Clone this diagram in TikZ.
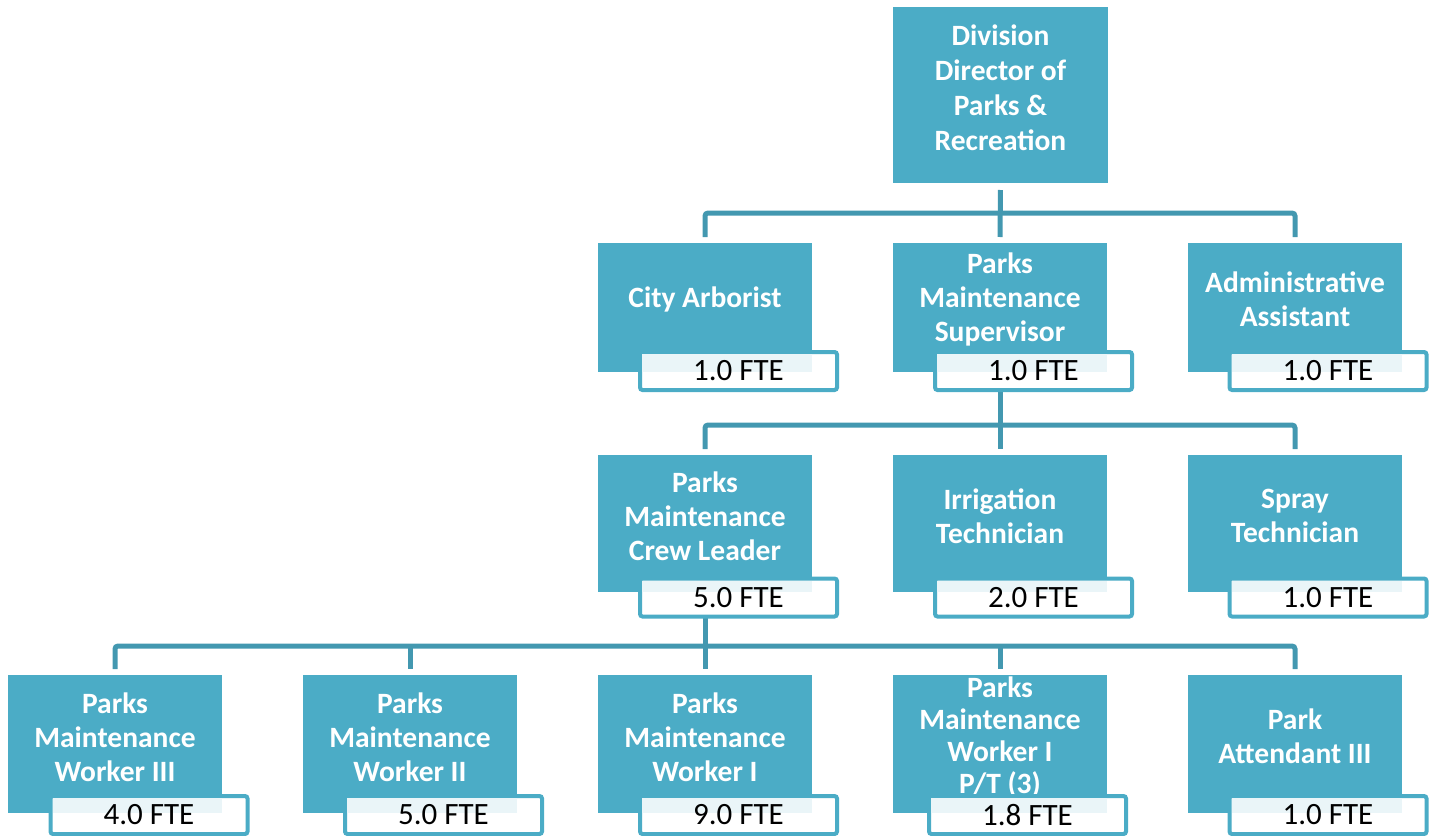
\documentclass[tikz,border=0pt]{standalone}
\usepackage{fontspec}
\setmainfont{Carlito}
\usetikzlibrary{backgrounds}

\definecolor{boxblue}{HTML}{4BACC6}
\definecolor{linkblue}{HTML}{4398B0}
\definecolor{tintblue}{HTML}{EAF5F8}

\tikzset{
  mainbox/.style={fill=boxblue, draw=none, minimum width=214pt, inner sep=0pt, outer sep=0pt},
  titletext/.style={text=white, font=\bfseries\fontsize{29.5}{34}\selectfont, align=center, inner sep=0pt},
  ftebox/.style={fill=white, draw=boxblue, line width=4pt, rounded corners=2.5pt,
    minimum width=197pt, minimum height=38pt, inner sep=0pt, outer sep=0pt},
  ftetext/.style={text=black, font=\fontsize{31}{34}\selectfont, inner sep=0pt},
  tint/.style={fill=tintblue},
  conn/.style={draw=linkblue, line width=5pt, rounded corners=3pt},
}

% #1 name, #2 centre x, #3 centre y, #4 height, #5 title y, #6 title,
% #7 FTE centre x, #8 FTE centre y, #9 FTE text
\newcommand\orgbox[9]{%
  \node[mainbox, minimum height=#4pt] (#1) at (#2,#3) {};
  \node[titletext] (#1-title) at (#2,#5) {#6};
  \node[ftebox] (#1-fte) at (#7,#8) {};
  \fill[tint] ([shift={(2,2)}]#1-fte.north west) rectangle (#1.south east);
  \node[ftetext] (#1-num) at (#1-fte) {#9};
}

\begin{document}
\begin{tikzpicture}[x=1pt, y=-1pt]
\useasboundingbox (0,0) rectangle (1437,835);

% top
\node[mainbox, minimum width=215pt, minimum height=176pt] (dir) at (1000.5,95) {};
\node[titletext, font=\bfseries\fontsize{29.5}{35}\selectfont] (dir-title) at (1000.5,88)
  {Division\\Director of\\Parks \&\\Recreation};

% first level
\orgbox{ca}{705}{307.5}{129}{299}{City Arborist}{738.5}{371}{1.0 FTE}
\orgbox{sup}{1000}{307.5}{129}{299}{Parks\\Maintenance\\Supervisor}{1033.5}{371}{1.0 FTE}
\orgbox{aa}{1295}{307.5}{129}{299}{Administrative\\Assistant}{1328}{371}{1.0 FTE}

% second level
\orgbox{cl}{705}{523.5}{137}{516}{Parks\\Maintenance\\Crew Leader}{738.5}{597.5}{5.0 FTE}
\orgbox{it}{1000}{523.5}{137}{516}{Irrigation\\Technician}{1033.5}{597.5}{2.0 FTE}
\orgbox{st}{1295}{523.5}{137}{516}{Spray\\Technician}{1328}{597.5}{1.0 FTE}

% third level
\orgbox{w3}{115}{744}{138}{737}{Parks\\Maintenance\\Worker III}{149}{815}{4.0 FTE}
\orgbox{w2}{410}{744}{138}{737}{Parks\\Maintenance\\Worker II}{443.5}{815}{5.0 FTE}
\orgbox{w1}{705}{744}{138}{737}{Parks\\Maintenance\\Worker I}{738.5}{815}{9.0 FTE}
\node[mainbox, minimum height=138pt] (wpt) at (1000,744) {};
\node[titletext, font=\bfseries\fontsize{29.5}{32}\selectfont] (wpt-title) at (1000,737)
  {Parks\\Maintenance\\Worker I\\P/T (3)};
\node[ftebox] (wpt-fte) at (1027.5,815) {};
\fill[tint] ([shift={(2,2)}]wpt-fte.north west) rectangle (wpt.south east);
\node[ftetext] (wpt-num) at (wpt-fte) {1.8 FTE};
\orgbox{pa}{1295}{744}{138}{736}{Park\\Attendant III}{1328}{815}{1.0 FTE}

% reporting lines
\coordinate (j1) at (1000,213);
\coordinate (j2) at (1000,425);
\coordinate (j3) at (705,646);
\begin{scope}[on background layer]
  \draw[conn, shorten <=7pt, shorten >=6pt] (dir.south) -- (sup.north);
  \draw[conn, shorten <=6pt, shorten >=6pt] (ca.north) |- (j1) -| (aa.north);

  \draw[conn, shorten >=6pt] (it.north |- sup-fte.south) -- (it.north);
  \draw[conn, shorten <=6pt, shorten >=6pt] (cl.north) |- (j2) -| (st.north);

  \draw[conn, shorten >=6pt] (w1.north |- cl-fte.south) -- (w1.north);
  \draw[conn, shorten <=6pt, shorten >=6pt] (w3.north) |- (j3) -| (pa.north);
  \draw[conn, shorten >=6pt] (w2.north |- j3) -- (w2.north);
  \draw[conn, shorten >=6pt] (wpt.north |- j3) -- (wpt.north);
\end{scope}
\end{tikzpicture}
\end{document}
